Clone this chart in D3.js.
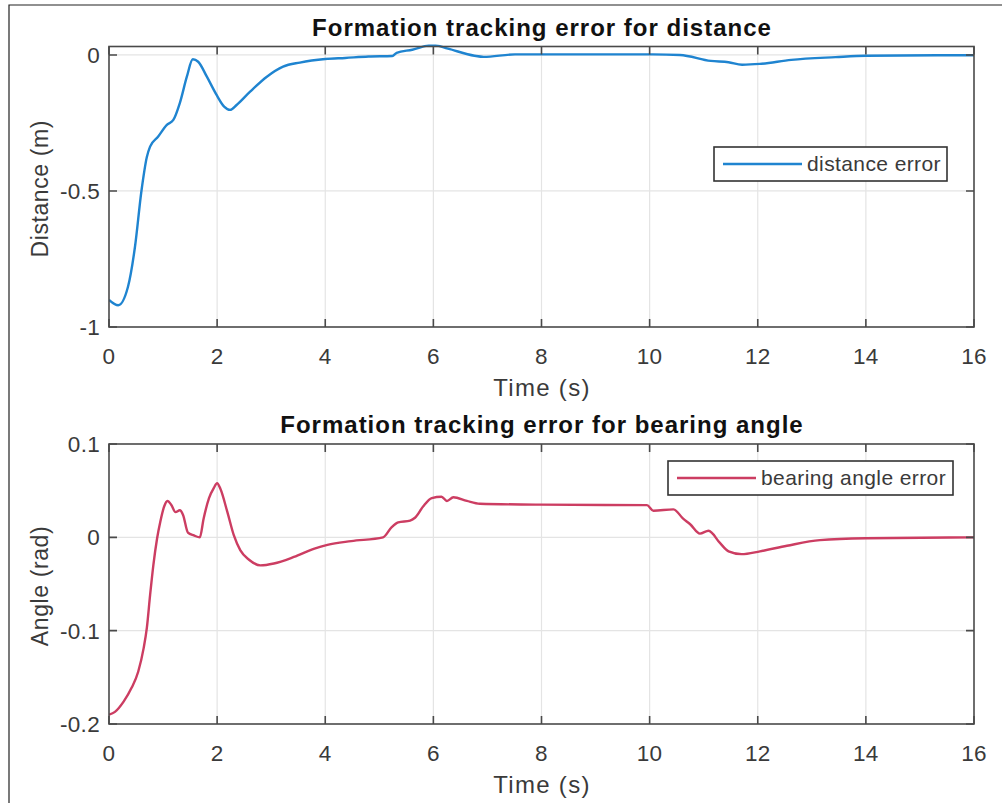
<!DOCTYPE html>
<html>
<head>
<meta charset="utf-8">
<script src="https://cdn.jsdelivr.net/npm/d3@7"></script>
<style>
body { margin: 0; background: #fff; }
svg { display: block; font-family: "Liberation Sans", Arial, sans-serif; }
</style>
</head>
<body>
<div id="graph"></div>
<script>
// Chart values
const timeTicks = [0, 2, 4, 6, 8, 10, 12, 14, 16]
const distTicks = [-1, -0.5, 0]
const angleTicks = [-0.2, -0.1, 0, 0.1]

const distTime = [0, 0.17, 0.35, 0.48, 0.6, 0.7, 0.76, 0.91, 1.07, 1.19, 1.31, 1.44, 1.55, 1.65,
    1.81, 1.99, 2.13, 2.24, 2.36, 2.61, 2.92, 3.22, 3.53, 4.0, 4.37, 4.8, 5.24, 5.32, 5.61,
    5.98, 6.27, 6.76, 6.93, 7.51, 8.04, 10.06, 10.56, 11.13, 11.46, 11.71, 12.04, 12.62,
    13.44, 14.0, 16]
const distError = [-0.90, -0.92, -0.853, -0.706, -0.50, -0.375, -0.337, -0.30, -0.257, -0.239,
    -0.177, -0.08, -0.016, -0.025, -0.08, -0.147, -0.19, -0.202, -0.184, -0.135, -0.08,
    -0.043, -0.028, -0.015, -0.011, -0.006, -0.004, 0.008, 0.019, 0.037, 0.023, -0.003,
    -0.007, 0.002, 0.002, 0.002, 0, -0.022, -0.027, -0.036, -0.033, -0.018, -0.008, -0.003,
    -0.001]

const angleTime = [0, 0.11, 0.27, 0.42, 0.54, 0.64, 0.70, 0.76, 0.82, 0.89, 0.95, 1.02, 1.08,
    1.15, 1.23, 1.31, 1.37, 1.46, 1.57, 1.68, 1.75, 1.85, 1.94, 2.0, 2.06, 2.19, 2.31, 2.43,
    2.59, 2.80, 3.05, 3.42, 3.80, 4.04, 4.48, 5.07, 5.23, 5.35, 5.57, 5.66, 5.81, 5.97, 6.15,
    6.25, 6.37, 6.62, 6.86, 7.97, 9.95, 10.07, 10.44, 10.62, 10.75, 10.93, 11.09, 11.30,
    11.46, 11.70, 12.04, 12.54, 13.15, 14.0, 16]
const angleError = [-0.190, -0.187, -0.176, -0.161, -0.144, -0.119, -0.097, -0.062, -0.030,
    -0.001, 0.017, 0.033, 0.039, 0.035, 0.027, 0.029, 0.024, 0.005, 0.002, 0.000, 0.020,
    0.042, 0.053, 0.058, 0.052, 0.027, 0.002, -0.014, -0.024, -0.030, -0.028, -0.021,
    -0.012, -0.008, -0.004, 0, 0.011, 0.016, 0.018, 0.021, 0.033, 0.042, 0.0435, 0.039,
    0.043, 0.039, 0.036, 0.035, 0.0345, 0.0285, 0.030, 0.020, 0.014, 0.004, 0.007, -0.006,
    -0.015, -0.018, -0.015, -0.009, -0.003, -0.001, 0]

const width = 1002
const height = 803
const axisColor = "#4a4a4a"
const textColor = "#3a3a3a"

const svg = d3.select("#graph")
    .append("svg")
    .attr("width", width)
    .attr("height", height)

// figure frame (only top and left edges are visible in the picture)
svg.append("path")
    .attr("d", `M9,${height} V5 H${width}`)
    .attr("fill", "none")
    .attr("stroke", "#222")
    .attr("stroke-width", 1.2)

function panel(o) {
    const x = d3.scaleLinear().domain([0, 16]).range([109, 974])
    const y = d3.scaleLinear().domain(o.yDomain).range([o.bottom, o.top])
    const g = svg.append("g")

    // grid
    g.append("g")
        .selectAll("line")
        .data(timeTicks.slice(1, -1))
        .join("line")
        .attr("x1", d => x(d)).attr("x2", d => x(d))
        .attr("y1", o.top).attr("y2", o.bottom)
    g.append("g")
        .selectAll("line")
        .data(o.yTicks.filter(d => y(d) > o.top + 1 && y(d) < o.bottom - 1))
        .join("line")
        .attr("x1", x.range()[0]).attr("x2", x.range()[1])
        .attr("y1", d => y(d)).attr("y2", d => y(d))
    g.selectAll("line").attr("stroke", "#e4e4e4").attr("stroke-width", 1.2)

    // data line
    const clipId = "clip" + o.top
    svg.append("clipPath").attr("id", clipId)
        .append("rect")
        .attr("x", 109).attr("y", o.top - 2)
        .attr("width", 865).attr("height", o.bottom - o.top + 2)
    const line = d3.line()
        .x(d => x(d[0]))
        .y(d => y(d[1]))
        .curve(d3.curveMonotoneX)
    g.append("path")
        .datum(d3.zip(o.time, o.values))
        .attr("clip-path", `url(#${clipId})`)
        .attr("fill", "none")
        .attr("stroke", o.color)
        .attr("stroke-width", 2.4)
        .attr("stroke-linejoin", "round")
        .attr("d", line)

    // box and inward ticks
    const ax = g.append("g").attr("stroke", axisColor).attr("stroke-width", 1.6).attr("fill", "none")
    ax.append("rect")
        .attr("x", 109).attr("y", o.top)
        .attr("width", 865).attr("height", o.bottom - o.top)
    timeTicks.forEach(t => {
        ax.append("path").attr("d", `M${x(t)},${o.bottom} v-8 M${x(t)},${o.top} v8`)
    })
    o.yTicks.forEach(v => {
        ax.append("path").attr("d", `M109,${y(v)} h8 M974,${y(v)} h-8`)
    })

    // tick labels
    g.append("g")
        .selectAll("text")
        .data(timeTicks)
        .join("text")
        .attr("x", d => x(d))
        .attr("y", o.bottom + 37)
        .attr("text-anchor", "middle")
        .text(d => d)
    g.append("g")
        .selectAll("text")
        .data(o.yTicks)
        .join("text")
        .attr("x", 100)
        .attr("y", d => y(d) + 8)
        .attr("text-anchor", "end")
        .text(d => d)
    g.selectAll("g text")
        .attr("fill", textColor)
        .style("font-size", "22.5px")
        .style("letter-spacing", "0.3px")

    // axis labels and title
    g.append("text")
        .attr("x", 542)
        .attr("y", o.bottom + 69)
        .attr("text-anchor", "middle")
        .attr("fill", textColor)
        .style("font-size", "24px")
        .style("letter-spacing", "1.3px")
        .text("Time (s)")
    g.append("text")
        .attr("transform", `translate(48,${(o.top + o.bottom) / 2 + 2}) rotate(-90)`)
        .attr("text-anchor", "middle")
        .attr("fill", textColor)
        .style("font-size", "23px")
        .style("letter-spacing", "0.6px")
        .text(o.yLabel)
    g.append("text")
        .attr("x", 542)
        .attr("y", o.top - 11)
        .attr("text-anchor", "middle")
        .attr("fill", "#111")
        .style("font-size", "24px")
        .style("font-weight", "bold")
        .style("letter-spacing", "1px")
        .text(o.title)

    // legend
    const lg = g.append("g").attr("transform", `translate(${o.legend[0]},${o.legend[1]})`)
    lg.append("rect")
        .attr("width", o.legend[2]).attr("height", 34)
        .attr("fill", "#fff")
        .attr("stroke", "#333")
        .attr("stroke-width", 1.6)
    lg.append("line")
        .attr("x1", 9).attr("x2", 88)
        .attr("y1", 17).attr("y2", 17)
        .attr("stroke", o.color)
        .attr("stroke-width", 2.4)
    lg.append("text")
        .attr("x", 93).attr("y", 24)
        .attr("fill", textColor)
        .style("font-size", "21px")
        .style("letter-spacing", "0.4px")
        .text(o.name)
}

panel({
    top: 46.5, bottom: 327,
    yDomain: [-1, 0.031],
    yTicks: distTicks,
    time: distTime, values: distError,
    color: "#1f84d0",
    title: "Formation tracking error for distance",
    yLabel: "Distance (m)",
    name: "distance error",
    legend: [714, 147, 233]
})

panel({
    top: 444, bottom: 724,
    yDomain: [-0.2, 0.1],
    yTicks: angleTicks,
    time: angleTime, values: angleError,
    color: "#cc3d62",
    title: "Formation tracking error for bearing angle",
    yLabel: "Angle (rad)",
    name: "bearing angle error",
    legend: [668, 461, 285]
})
</script>
</body>
</html>
